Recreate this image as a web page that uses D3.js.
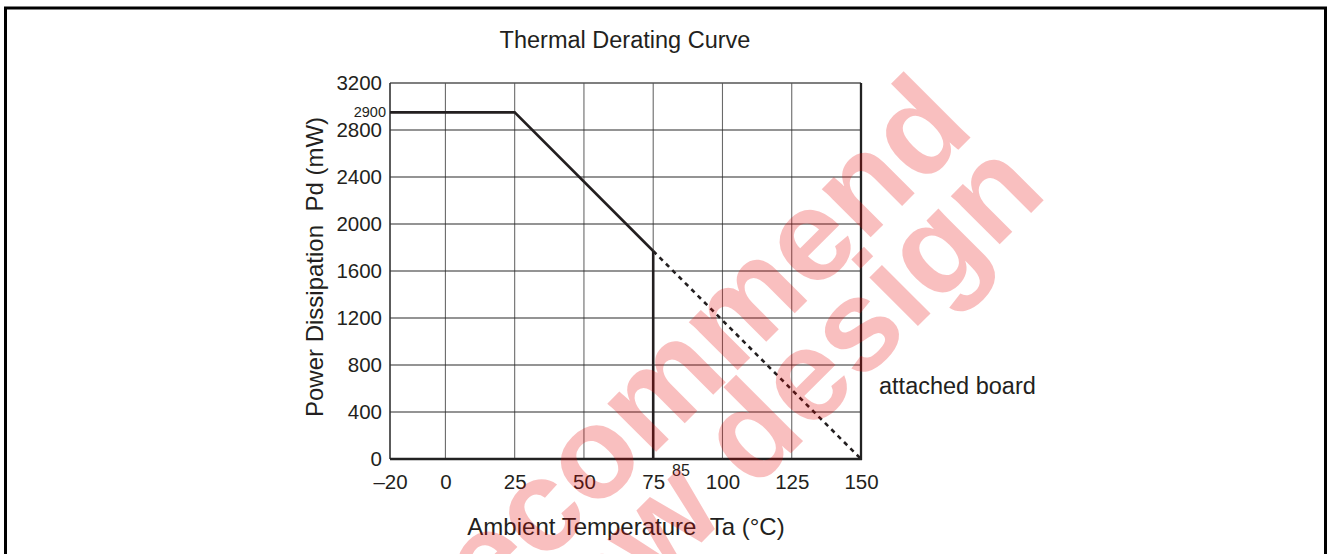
<!DOCTYPE html>
<html>
<head>
<meta charset="utf-8">
<script src="https://cdn.jsdelivr.net/npm/d3@7"></script>
<style>
  html, body { margin: 0; padding: 0; background: #fff; }
  svg { display: block; }
  text { font-family: "Liberation Sans", Arial, Helvetica, sans-serif; fill: #231f20; }
</style>
</head>
<body>
<script>
// ---- data ----
const xTicks = [-20, 0, 25, 50, 75, 100, 125, 150];
const yTicks = [0, 400, 800, 1200, 1600, 2000, 2400, 2800, 3200];
const solidTemp = [-20, 25, 75];
const solidPower = [2950, 2950, 1770];
const cutoffTemp = [75, 75];
const cutoffPower = [1770, 0];
const dashedTemp = [75, 150];
const dashedPower = [1770, 0];
const maxLabel = { text: "2900", value: 2950 };
const tempLabel = { text: "85", value: 85 };
const title = "Thermal Derating Curve";
const xTitle = "Ambient Temperature\u00a0\u00a0Ta (°C)";
const yTitle = "Power Dissipation\u00a0\u00a0Pd (mW)";
const boardNote = "attached board";
const watermark = ["recommend", "new design"];

// ---- layout ----
const W = 1327, H = 554;
const svg = d3.select("body").append("svg").attr("width", W).attr("height", H);

const x = d3.scaleLinear().domain([-20, 150]).range([390, 861]);
const y = d3.scaleLinear().domain([0, 3200]).range([459, 83]);

// outer frame
svg.append("rect").attr("x", 5.5).attr("y", 8).attr("width", 1320).attr("height", 600)
  .attr("fill", "none").attr("stroke", "#000").attr("stroke-width", 3);

// title
svg.append("text").attr("x", 625).attr("y", 48).attr("text-anchor", "middle")
  .attr("font-size", 23.5).text(title);

// grid
const g = svg.append("g");
g.selectAll("line.vg").data(xTicks.filter(d => d > -20 && d < 150)).join("line")
  .attr("x1", d => x(d)).attr("x2", d => x(d)).attr("y1", y(3200)).attr("y2", y(0))
  .attr("stroke", "#6a6a6a").attr("stroke-width", 1.1);
g.selectAll("line.hg").data(yTicks.filter(d => d > 0 && d < 3200)).join("line")
  .attr("x1", x(-20)).attr("x2", x(150)).attr("y1", d => y(d)).attr("y2", d => y(d))
  .attr("stroke", "#2a2a2a").attr("stroke-width", 1.1);

// frame of plot
g.append("line").attr("x1", x(-20)).attr("x2", x(150)).attr("y1", y(3200)).attr("y2", y(3200))
  .attr("stroke", "#555").attr("stroke-width", 1.3);
g.append("line").attr("x1", x(-20)).attr("x2", x(-20)).attr("y1", y(3200)).attr("y2", y(0))
  .attr("stroke", "#333").attr("stroke-width", 1.6);
g.append("line").attr("x1", x(150)).attr("x2", x(150)).attr("y1", y(3200)).attr("y2", y(0) + 1)
  .attr("stroke", "#222").attr("stroke-width", 2.3);
g.append("line").attr("x1", x(-20)).attr("x2", x(150) + 1).attr("y1", y(0)).attr("y2", y(0))
  .attr("stroke", "#222").attr("stroke-width", 2.3);

// axes labels via d3 axes
const xAxis = svg.append("g").attr("transform", `translate(0,${y(0)})`)
  .call(d3.axisBottom(x).tickValues(xTicks).tickSize(0).tickPadding(15)
    .tickFormat(d => d < 0 ? "\u2013" + Math.abs(d) : String(d)));
xAxis.select(".domain").remove();
xAxis.selectAll("text").attr("font-size", 20.5).attr("fill", "#231f20")
  .attr("font-family", "'Liberation Sans', Arial, sans-serif");

const yAxis = svg.append("g").attr("transform", `translate(${x(-20)},0)`)
  .call(d3.axisLeft(y).tickValues(yTicks).tickSize(0).tickPadding(8).tickFormat(d => String(d)));
yAxis.select(".domain").remove();
yAxis.selectAll("text").attr("font-size", 20.5).attr("fill", "#231f20")
  .attr("font-family", "'Liberation Sans', Arial, sans-serif");

// curve
const line = d3.line().x(d => x(d[0])).y(d => y(d[1]));
svg.append("path").datum(d3.zip(solidTemp, solidPower)).attr("d", line)
  .attr("fill", "none").attr("stroke", "#231f20").attr("stroke-width", 2.6);
svg.append("path").datum(d3.zip(cutoffTemp, cutoffPower)).attr("d", line)
  .attr("fill", "none").attr("stroke", "#231f20").attr("stroke-width", 2.6);
svg.append("path").datum(d3.zip(dashedTemp, dashedPower)).attr("d", line)
  .attr("fill", "none").attr("stroke", "#231f20").attr("stroke-width", 2.6)
  .attr("stroke-dasharray", "4.5,4.5");

// annotations
svg.append("text").attr("x", x(-20) - 4).attr("y", y(maxLabel.value)).attr("dy", "0.35em")
  .attr("text-anchor", "end").attr("font-size", 14.5).text(maxLabel.text);
svg.append("text").attr("x", x(tempLabel.value)).attr("y", 476).attr("text-anchor", "middle")
  .attr("font-size", 16).text(tempLabel.text);
svg.append("text").attr("x", 879).attr("y", 394).attr("font-size", 23.5).text(boardNote);

// axis titles
svg.append("text").attr("x", 626).attr("y", 535).attr("text-anchor", "middle")
  .attr("font-size", 24).text(xTitle);
svg.append("text").attr("transform", "translate(323,267) rotate(-90)").attr("text-anchor", "middle")
  .attr("font-size", 24).text(yTitle);

// watermark
const wm = svg.append("g").attr("pointer-events", "none");
const wmPos = [[716, 392], [799, 445]];
wm.selectAll("text").data(watermark).join("text")
  .attr("transform", (d, i) => `translate(${wmPos[i][0]},${wmPos[i][1]}) rotate(-45)`)
  .attr("text-anchor", "middle").attr("font-size", 130).attr("font-weight", "bold")
  .style("fill", "rgb(232,0,0)").attr("fill-opacity", 0.25)
  .text(d => d);
</script>
</body>
</html>
